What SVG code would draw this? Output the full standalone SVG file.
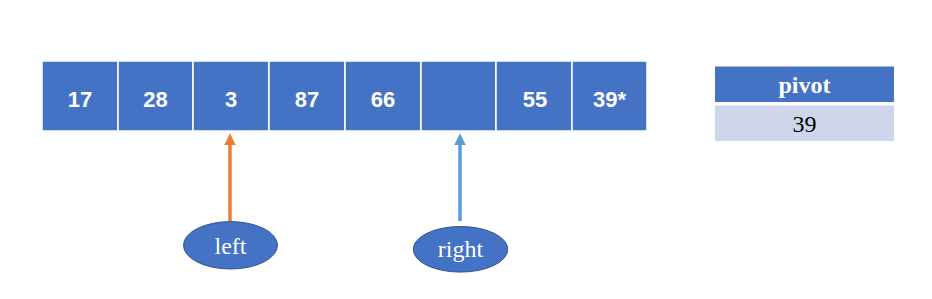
<svg xmlns="http://www.w3.org/2000/svg" width="932" height="299" viewBox="0 0 932 299">
<style>
.cell{fill:#4472C4;stroke:#ffffff;stroke-width:1.5}
.num{font-family:"Liberation Sans",Arial,sans-serif;font-size:22px;font-weight:bold;fill:#ffffff;text-anchor:middle}
.serif{font-family:"Liberation Serif","Times New Roman",serif;font-size:24px;text-anchor:middle}
.ell{fill:#4472C4;stroke:#2F528F;stroke-width:1}
</style>
<rect width="932" height="299" fill="#ffffff"/>
<g id="array">
<g id="cell0"><rect class="cell" x="42" y="61" width="76" height="70"/><text class="num" x="80" y="106.5">17</text></g>
<g id="cell1"><rect class="cell" x="118" y="61" width="75" height="70"/><text class="num" x="155.5" y="106.5">28</text></g>
<g id="cell2"><rect class="cell" x="193" y="61" width="76" height="70"/><text class="num" x="231" y="106.5">3</text></g>
<g id="cell3"><rect class="cell" x="269" y="61" width="76" height="70"/><text class="num" x="307" y="106.5">87</text></g>
<g id="cell4"><rect class="cell" x="345" y="61" width="76" height="70"/><text class="num" x="383" y="106.5">66</text></g>
<g id="cell5"><rect class="cell" x="421" y="61" width="75" height="70"/></g>
<g id="cell6"><rect class="cell" x="496" y="61" width="76" height="70"/><text class="num" x="535" y="106.5">55</text></g>
<g id="cell7"><rect class="cell" x="572" y="61" width="75" height="70"/><text class="num" x="609.5" y="106.5">39*</text></g>
</g>
<g id="pivot">
<rect x="715" y="66.5" width="179" height="35.5" fill="#4472C4"/>
<text class="serif" x="804.5" y="93" fill="#ffffff" font-weight="bold">pivot</text>
<rect x="715" y="105.5" width="179" height="35.5" fill="#CFD5EA"/>
<text class="serif" x="804.5" y="131.5" fill="#000000">39</text>
</g>
<g id="connectors">
<line x1="230" y1="221" x2="230" y2="144" stroke="#ED7D31" stroke-width="3.5"/>
<polygon points="230,133.3 224.3,145 235.7,145" fill="#ED7D31"/>
<line x1="460" y1="221" x2="460" y2="144" stroke="#5B9BD5" stroke-width="3.5"/>
<polygon points="460,133.3 454.3,145 465.7,145" fill="#5B9BD5"/>
</g>
<g id="left">
<ellipse class="ell" cx="230.5" cy="245.3" rx="47" ry="23.7"/>
<text class="serif" x="230.5" y="254" fill="#ffffff">left</text>
</g>
<g id="right">
<ellipse class="ell" cx="460.5" cy="249.3" rx="47.2" ry="22.8"/>
<text class="serif" x="460.5" y="256.5" fill="#ffffff">right</text>
</g>
</svg>
